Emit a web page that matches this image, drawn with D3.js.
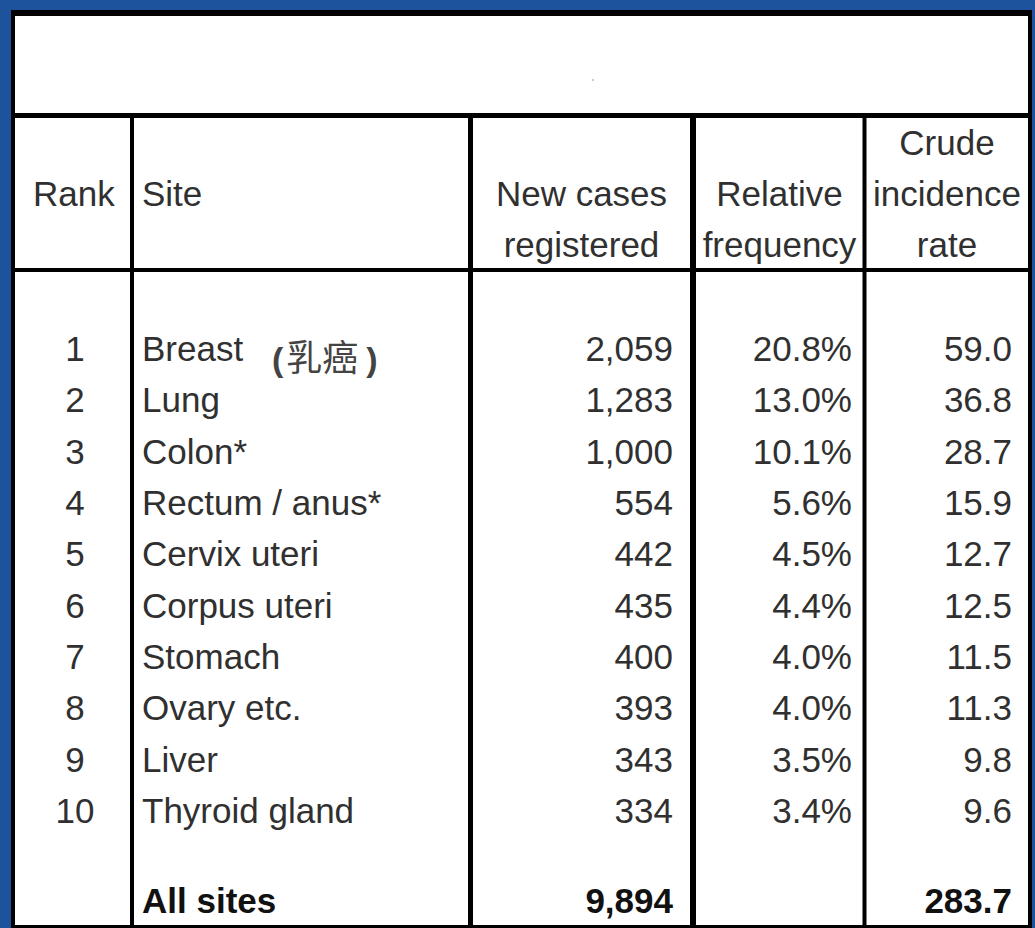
<!DOCTYPE html>
<html lang="en">
  <head>
    <meta charset="utf-8">
    <title>Top 10 cancer sites</title>
    <script type="text/javascript" src="https://cdn.jsdelivr.net/npm/d3@7"></script>
    <style>
      body { margin: 0; background: #1c539c; }
      text { font-family: "Liberation Sans", Arial, sans-serif; }
    </style>
  </head>

  <body>
    <script>
      // table data
      var ranks = [1, 2, 3, 4, 5, 6, 7, 8, 9, 10]
      var sites = ['Breast', 'Lung', 'Colon*', 'Rectum / anus*', 'Cervix uteri',
                   'Corpus uteri', 'Stomach', 'Ovary etc.', 'Liver', 'Thyroid gland']
      var newCases = [2059, 1283, 1000, 554, 442, 435, 400, 393, 343, 334]
      var relFreq = [20.8, 13.0, 10.1, 5.6, 4.5, 4.4, 4.0, 4.0, 3.5, 3.4]
      var crudeRate = [59.0, 36.8, 28.7, 15.9, 12.7, 12.5, 11.5, 11.3, 9.8, 9.6]
      var totalLabel = 'All sites'
      var totalCases = 9894
      var totalRate = 283.7
      var headers = [
        ['Rank'], ['Site'], ['New cases', 'registered'],
        ['Relative', 'frequency'], ['Crude', 'incidence', 'rate']
      ]

      var W = 1035, H = 928
      var svg = d3.select('body').append('svg').attr('width', W).attr('height', H)

      // column borders (x) and their stroke widths
      var colLines = [13, 132, 470.5, 693, 864.5, 1030]
      var colWidths = [4, 4, 5, 6, 4, 4]

      // white table body
      svg.append('rect')
        .attr('x', 13).attr('y', 13).attr('width', 1017).attr('height', H - 13)
        .attr('fill', 'white')

      // tiny speck in the empty title cell
      svg.append('circle').attr('cx', 593).attr('cy', 80).attr('r', 1.2).attr('fill', '#ccc')

      // rows
      var y = d3.scaleLinear().domain([1, 10]).range([361, 823])
      var totalY = 913

      var fmtInt = d3.format(',')
      var fmtPct = function(v) { return d3.format('.1f')(v) + '%' }
      var fmt1 = d3.format('.1f')

      var textColor = '#303030'
      var fs = 35

      // header lines
      var hdrY = d3.scaleLinear().domain([0, 2]).range([155, 257])
      var hdrX = [
        { x: 33, anchor: 'start' },
        { x: 142, anchor: 'start' },
        { x: (473 + 690) / 2, anchor: 'middle' },
        { x: (696 + 863) / 2, anchor: 'middle' },
        { x: (866 + 1028) / 2, anchor: 'middle' }
      ]
      headers.forEach(function(lines, i) {
        var start = lines.length == 3 ? 0 : 1
        lines.forEach(function(t, j) {
          svg.append('text')
            .attr('x', hdrX[i].x)
            .attr('y', hdrY(start + j))
            .attr('text-anchor', hdrX[i].anchor)
            .attr('font-size', fs)
            .attr('fill', textColor)
            .text(t)
        })
      })

      var rows = svg.append('g').selectAll('g').data(ranks).enter().append('g')

      rows.append('text')
        .attr('x', 75).attr('y', function(d) { return y(d) })
        .attr('text-anchor', 'middle').attr('font-size', fs).attr('fill', textColor)
        .text(function(d) { return d })

      rows.append('text')
        .attr('x', 142).attr('y', function(d) { return y(d) })
        .attr('font-size', fs).attr('fill', textColor)
        .text(function(d, i) { return sites[i] })

      rows.append('text')
        .attr('x', 673).attr('y', function(d) { return y(d) })
        .attr('text-anchor', 'end').attr('font-size', fs).attr('fill', textColor)
        .text(function(d, i) { return fmtInt(newCases[i]) })

      rows.append('text')
        .attr('x', 852).attr('y', function(d) { return y(d) })
        .attr('text-anchor', 'end').attr('font-size', fs).attr('fill', textColor)
        .text(function(d, i) { return fmtPct(relFreq[i]) })

      rows.append('text')
        .attr('x', 1012).attr('y', function(d) { return y(d) })
        .attr('text-anchor', 'end').attr('font-size', fs).attr('fill', textColor)
        .text(function(d, i) { return fmt1(crudeRate[i]) })

      // chinese note next to Breast
      var note = svg.append('text')
        .attr('x', 272).attr('y', y(1) + 10)
        .attr('fill', '#444')
      note.append('tspan').attr('font-weight', 'bold').attr('font-size', 34).text('(')
      note.append('tspan').attr('dx', 3)
        .attr('font-family', '"Noto Sans CJK SC", sans-serif')
        .attr('font-size', 36).text('乳癌')
      note.append('tspan').attr('dx', 8).attr('font-weight', 'bold').attr('font-size', 34).text(')')

      // totals
      var bold = [
        { x: 142, anchor: 'start', t: totalLabel },
        { x: 673, anchor: 'end', t: fmtInt(totalCases) },
        { x: 1012, anchor: 'end', t: fmt1(totalRate) }
      ]
      svg.selectAll('text.total').data(bold).enter().append('text')
        .attr('class', 'total')
        .attr('x', function(d) { return d.x }).attr('y', totalY)
        .attr('text-anchor', function(d) { return d.anchor })
        .attr('font-size', fs).attr('font-weight', 'bold').attr('fill', '#111')
        .text(function(d) { return d.t })

      // grid lines
      var grid = svg.append('g').attr('stroke', '#000')
      colLines.forEach(function(x, i) {
        var top = (i == 0 || i == colLines.length - 1) ? 10 : 115
        grid.append('line')
          .attr('x1', x).attr('x2', x).attr('y1', top).attr('y2', H)
          .attr('stroke-width', colWidths[i])
      })
      var rowLines = [[13, 6], [115.5, 5], [270, 4], [926.5, 3]]
      rowLines.forEach(function(r) {
        grid.append('line')
          .attr('x1', 11).attr('x2', 1032).attr('y1', r[0]).attr('y2', r[0])
          .attr('stroke-width', r[1])
      })
    </script>
  </body>
</html>
